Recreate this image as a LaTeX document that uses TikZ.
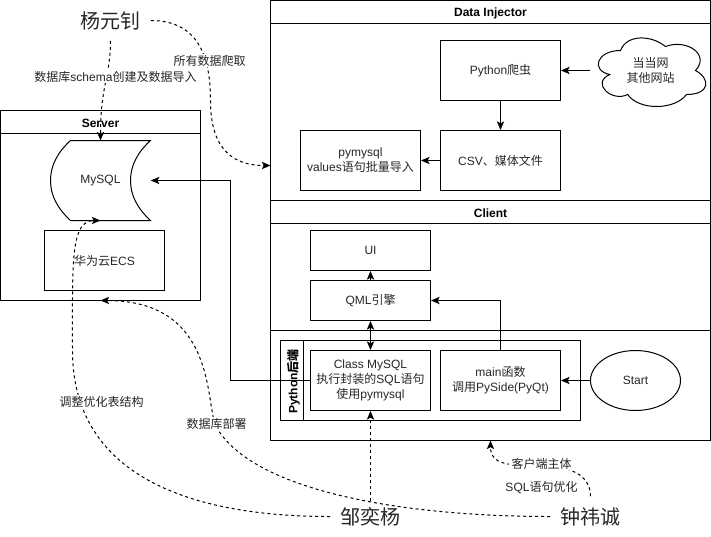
\documentclass[tikz,border=0pt]{standalone}
\usepackage{fontspec}
\setmainfont{Liberation Sans}
\newfontfamily\cjk{Noto Sans CJK SC}
\usetikzlibrary{arrows.meta,calc,shapes.geometric}
\tikzset{
  x=0.75pt,y=-0.75pt,
  every node/.style={font=\fontsize{9pt}{11.25pt}\selectfont,align=center,text=black!85,inner sep=0pt},
  ln/.style={line width=0.75pt,draw=black},
  box/.style={ln,rectangle,minimum width=90pt,minimum height=45pt},
  lane/.style={ln,fill=none},
  ttl/.style={font=\fontsize{9pt}{11.25pt}\selectfont\bfseries,text=black},
  arr/.style={ln,-{Stealth[length=6.5pt,width=5.5pt,inset=1.5pt]}},
  darr/.style={ln,{Stealth[length=6.5pt,width=5.5pt,inset=1.5pt]}-{Stealth[length=6.5pt,width=5.5pt,inset=1.5pt]}},
  dashedge/.style={ln,dash pattern=on 2.25pt off 2.25pt,-{Stealth[length=6.5pt,width=5.5pt,inset=1.5pt]}},
  lbl/.style={fill=white,inner xsep=2pt,inner ysep=1pt},
  person/.style={font=\fontsize{15pt}{18pt}\selectfont\cjk,minimum width=60pt},
}
\begin{document}
\begin{tikzpicture}
\useasboundingbox (-0.5,-0.5) rectangle (710.5,535.5);
% containers
\draw[lane] (270,0) rectangle (710,200);
\draw[lane] (270,0) rectangle (710,23);
\draw[lane] (270,200) rectangle (710,440);
\draw[lane] (270,200) -- (710,200) (270,223) -- (710,223);
\draw[lane] (270,330) -- (710,330);
\draw[lane] (280,340) rectangle (580,420);
\draw[lane] (303,340) -- (303,420);
\draw[lane] (0,110) rectangle (200,300);
\draw[lane] (0,133) -- (200,133);
\node[ttl] (tinj) at (490,13) {Data Injector};
\node[ttl] (tcli) at (490,213) {Client};
\node[ttl] (tsrv) at (100,123) {Server};
\node[ttl,rotate=90] (tpy) at (293,381) {Python{\cjk 后端}};
% boxes
\node[box] (crawl) at (500,70) {Python{\cjk 爬虫}};
\node[box] (csv) at (500,160) {CSV{\cjk 、媒体文件}};
\node[box] (pym) at (360,160) {pymysql\\values{\cjk 语句批量导入}};
\node[box,minimum height=30pt] (ui) at (370,250) {UI};
\node[box,minimum height=30pt] (qml) at (370,300) {QML{\cjk 引擎}};
\node[box] (cls) at (370,380) {Class MySQL\\{\cjk 执行封装的}SQL{\cjk 语句}\\{\cjk 使用}pymysql};
\node[box] (mainf) at (500,380) {main{\cjk 函数}\\{\cjk 调用}PySide(PyQt)};
\node[ln,ellipse,minimum width=67.5pt,minimum height=45pt] (start) at (635,380) {Start};
\node[box] (ecs) at (104,260) {{\cjk 华为云}ECS};
% cloud
\draw[ln] (620,50) .. controls (596,50) and (590,70) .. (609.2,74)
  .. controls (590,82.8) and (611.6,102) .. (627.2,94)
  .. controls (638,110) and (674,110) .. (686,94)
  .. controls (710,94) and (710,78) .. (695,70)
  .. controls (710,54) and (686,38) .. (665,46)
  .. controls (650,34) and (626,34) .. (620,50) -- cycle;
\node[minimum width=90pt,minimum height=60pt] (cloud) at (650,70) {{\cjk 当当网}\\{\cjk 其他网站}};
% MySQL shape
\draw[ln] (70,140) -- (150,140) .. controls (137,152) and (130,165) .. (130,180)
  .. controls (130,195) and (137,208) .. (150,220) -- (70,220)
  .. controls (57,208) and (50,195) .. (50,180)
  .. controls (50,165) and (57,152) .. (70,140) -- cycle;
\node[minimum width=75pt,minimum height=60pt] (mysql) at (100,180) {MySQL};
% people
\node[person,minimum height=30pt] (yang) at (110,20) {杨元钊};
\node[person,minimum height=22.5pt] (zou) at (370,516) {邹奕杨};
\node[person,minimum height=30pt] (zhong) at (590,516) {钟祎诚};
% solid connectors
\draw[arr] (cloud.west) -- (crawl.east);
\draw[arr] (crawl.south) -- (csv.north);
\draw[arr] (csv.west) -- (pym.east);
\draw[arr] (qml.north) -- (ui.south);
\draw[darr] (qml.south) -- (cls.north);
\draw[arr] (start.west) -- (mainf.east);
\draw[arr] (mainf.north) |- (qml.east);
\draw[arr] (cls.west) -- (230,380) -- (230,180) -- (mysql.east);
% dashed connectors
\draw[dashedge] (yang.south) .. controls (110,75) and (100,85) .. (100,140);
\draw[dashedge] (yang.east) .. controls (200,20) and (210,60) .. (210,100)
  .. controls (210,140) and (225,165) .. (270,165);
\draw[dashedge] (zou.west) .. controls (180,516) and (72,470) .. (72,350)
  .. controls (72,260) and (70,220) .. (100,220);
\draw[dashedge] (zhong.west) .. controls (400,516) and (250,490) .. (215,425)
  .. controls (205,400) and (215,300) .. (100,300);
\draw[dashedge] (zou.north) -- (cls.south);
\draw[dashedge] (zhong.north) .. controls (590,470) and (560,465) .. (540,465)
  .. controls (510,465) and (490,465) .. (490,440);
% edge labels
\node[lbl] (l1) at (115,76) {{\cjk 数据库}schema{\cjk 创建及数据导入}};
\node[lbl] (l2) at (209,60) {{\cjk 所有数据爬取}};
\node[lbl] (l3) at (101,401) {{\cjk 调整优化表结构}};
\node[lbl] (l4) at (216,423) {{\cjk 数据库部署}};
\node[lbl] (l5) at (541,463) {{\cjk 客户端主体}};
\node[lbl] (l6) at (541,487) {SQL{\cjk 语句优化}};
\end{tikzpicture}
\end{document}
